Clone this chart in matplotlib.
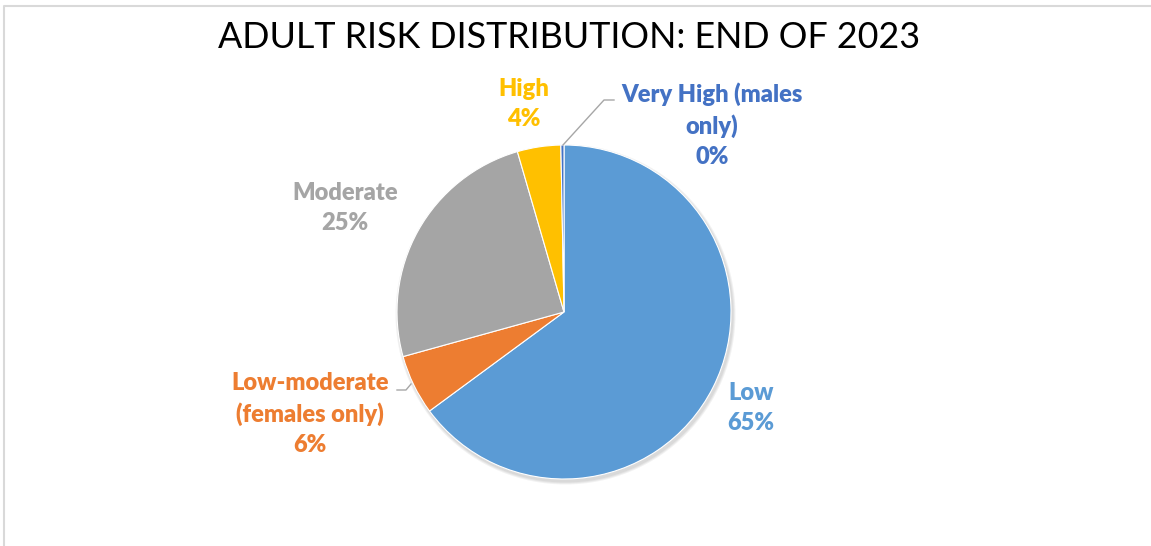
import matplotlib.pyplot as plt
from matplotlib.patches import Circle
from matplotlib.lines import Line2D

# data (percent of adults)
categories = ["Low", "Low-moderate\n(females only)", "Moderate", "High", "Very High (males\nonly)"]
values = [64.9, 5.8, 24.8, 4.2, 0.3]
colors = ["#5B9BD5", "#ED7D31", "#A5A5A5", "#FFC000", "#4472C4"]

W, H = 1151, 546
fig = plt.figure(figsize=(W / 100, H / 100), dpi=100)
ax = fig.add_axes([0, 0, 1, 1])

cx, cy, r = 564, H - 312, 167

# soft shadow under the whole pie
for i, a in enumerate([0.05, 0.05, 0.05]):
    ax.add_patch(Circle((cx + 1.5, cy - 2.5), r + 1 + i, color="black", alpha=a, lw=0, zorder=0))

wedges, _ = ax.pie(values, colors=colors, startangle=90, counterclock=False,
                   center=(cx, cy), radius=r, frame=True,
                   wedgeprops=dict(edgecolor="white", linewidth=0.8, zorder=2))
ax.set_xlim(0, W)
ax.set_ylim(0, H)
ax.set_aspect("equal")
ax.axis("off")

# label positions (pixels, top-origin) for each slice
label_pos = [(751, 408), (310, 414), (345, 208), (524, 104), (712, 125)]
font = "Lato"
for cat, val, col, (x, y) in zip(categories, values, colors, label_pos):
    ax.text(x, H - y, f"{cat}\n{round(val):.0f}%", ha="center", va="center",
            color=col, fontsize=17, fontweight="heavy", family=font,
            linespacing=1.45)

# leader lines
ax.plot([563, 604, 614], [H - 145, H - 100, H - 100], color="#A6A6A6", lw=1)
ax.plot([397, 406, 411], [H - 390, H - 390, H - 384], color="#A6A6A6", lw=1)

fig.text(569 / W, 1 - 38 / H, "ADULT RISK DISTRIBUTION: END OF 2023", ha="center", va="center",
         fontsize=25.8, family=font, color="#000000")

# chart frame (top and left edges visible)
fig.add_artist(Line2D([4 / W, 4 / W, 1], [0, 1 - 6 / H, 1 - 6 / H], transform=fig.transFigure,
                      color="#D9D9D9", lw=1.5))

fig.savefig("out.png", dpi=100, facecolor="white")
